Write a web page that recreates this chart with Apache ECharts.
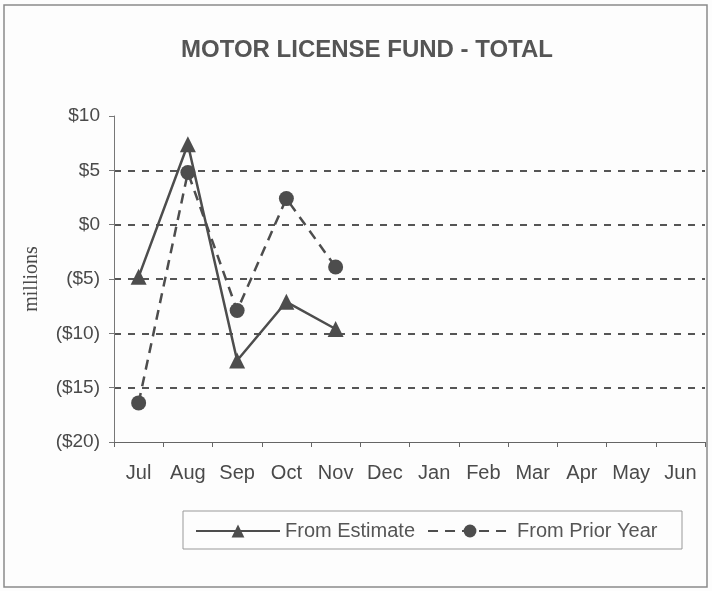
<!DOCTYPE html>
<html><head><meta charset="utf-8">
<script src="https://cdn.jsdelivr.net/npm/echarts@6/dist/echarts.min.js"></script>
<style>html,body{margin:0;padding:0;background:#fff}#c{width:712px;height:591px}</style>
</head><body><div id="c"></div>
<script>
const categories = ['Jul','Aug','Sep','Oct','Nov','Dec','Jan','Feb','Mar','Apr','May','Jun'];
const fromEstimate = [-4.8, 7.4, -12.5, -7.1, -9.6];
const fromPriorYear = [-16.4, 4.8, -7.9, 2.4, -3.9];
const yTicks = {min: -20, max: 10, interval: 5};

const chart = echarts.init(document.getElementById('c'));
const txt = '#4a4a4a';
chart.setOption({
  backgroundColor: '#fdfdfd',
  animation: false,
  graphic: [{type:'rect', shape:{x:4, y:5, width:703, height:582}, style:{fill:'none', stroke:'#8a8a8a', lineWidth:1.5}},
            {type:'rect', shape:{x:183, y:511, width:499, height:38}, style:{fill:'none', stroke:'#999', lineWidth:1}}],
  title: {text: 'MOTOR LICENSE FUND - TOTAL', left: 362, top: 33, textAlign: 'center',
    textStyle: {fontFamily: 'Liberation Sans', fontWeight: 'bold', fontSize: 24, color: '#555'}},
  grid: {left: 114, right: 7, top: 116, bottom: 149},
  legend: {left: 190, top: 516, itemWidth: 84, itemHeight: 16, itemGap: 12,
    textStyle: {fontFamily: 'Liberation Sans', fontSize: 20, color: '#555'},
    data: ['From Estimate', 'From Prior Year']},
  xAxis: {type: 'category', data: categories, boundaryGap: true,
    axisLine: {onZero: false, lineStyle: {color: '#666', width: 1}},
    axisTick: {show: true, length: 5, inside: false, lineStyle: {color: '#666'}},
    axisLabel: {fontFamily: 'Liberation Sans', fontSize: 20, color: txt, margin: 21}},
  yAxis: {type: 'value', min: yTicks.min, max: yTicks.max, interval: yTicks.interval,
    name: 'millions', nameLocation: 'middle', nameGap: 72, nameRotate: 90,
    nameTextStyle: {fontFamily: 'Liberation Serif', fontSize: 20, color: txt},
    axisLine: {show: true, lineStyle: {color: '#777', width: 1}},
    axisTick: {show: true, length: 5, lineStyle: {color: '#777'}},
    axisLabel: {fontFamily: 'Liberation Sans', fontSize: 19, color: txt, margin: 14,
      formatter: v => v < 0 ? '($' + (-v) + ')' : '$' + v},
    splitLine: {show: true, showMinLine: false, showMaxLine: false,
      lineStyle: {color: '#555', width: 2, type: [7, 7]}}},
  series: [
    {name: 'From Estimate', type: 'line', data: fromEstimate, symbol: 'triangle', symbolSize: 16,
      lineStyle: {color: '#4d4d4d', width: 2.5}, itemStyle: {color: '#4d4d4d'}},
    {name: 'From Prior Year', type: 'line', data: fromPriorYear, symbol: 'circle', symbolSize: 15,
      lineStyle: {color: '#4d4d4d', width: 2.5, type: [10, 7]}, itemStyle: {color: '#4d4d4d'}}
  ]
});
</script></body></html>
